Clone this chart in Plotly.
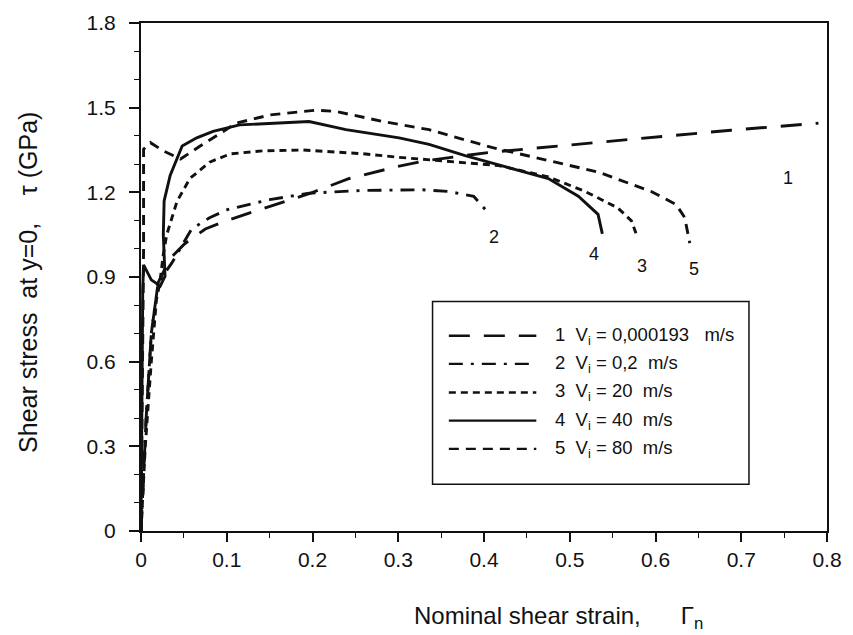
import plotly.graph_objects as go

# ---------------- data ----------------
x1 = [0, 0.006, 0.012, 0.02, 0.034, 0.051, 0.075, 0.1, 0.14, 0.196, 0.243, 0.297, 0.332, 0.405, 0.572, 0.688, 0.79]
y1 = [0, 0.4, 0.7, 0.88, 0.966, 1.018, 1.07, 1.10, 1.14, 1.195, 1.249, 1.29, 1.312, 1.341, 1.388, 1.42, 1.445]

x2 = [0, 0.006, 0.012, 0.02, 0.036, 0.059, 0.08, 0.101, 0.13, 0.15, 0.196, 0.26, 0.328, 0.359, 0.388, 0.4016]
y2 = [0, 0.4, 0.7, 0.88, 0.95, 1.07, 1.11, 1.139, 1.16, 1.174, 1.197, 1.207, 1.209, 1.203, 1.186, 1.139]

x3 = [0, 0.005, 0.012, 0.018, 0.022, 0.026, 0.03, 0.042, 0.057, 0.08, 0.104, 0.142, 0.189, 0.258, 0.301, 0.417, 0.475, 0.518, 0.556, 0.572, 0.579]
y3 = [0, 0.3, 0.6, 0.82, 0.88, 0.98, 1.05, 1.168, 1.249, 1.307, 1.336, 1.347, 1.35, 1.337, 1.324, 1.295, 1.255, 1.203, 1.145, 1.099, 1.04]

x4 = [0, 0.001, 0.002, 0.003, 0.012, 0.0224, 0.028, 0.026, 0.027, 0.034, 0.048, 0.065, 0.084, 0.115, 0.196, 0.239, 0.301, 0.336, 0.378, 0.475, 0.51, 0.533, 0.538]
y4 = [0, 0.5, 0.85, 0.943, 0.89, 0.868, 0.903, 1.05, 1.17, 1.26, 1.364, 1.393, 1.416, 1.439, 1.451, 1.422, 1.393, 1.37, 1.33, 1.249, 1.186, 1.122, 1.053]

x5 = [0, 0.002, 0.003, 0.003, 0.011, 0.026, 0.046, 0.069, 0.111, 0.15, 0.204, 0.227, 0.282, 0.336, 0.409, 0.533, 0.595, 0.624, 0.634, 0.64]
y5 = [0, 0.6, 1.0, 1.353, 1.376, 1.347, 1.318, 1.364, 1.445, 1.474, 1.491, 1.487, 1.451, 1.422, 1.359, 1.272, 1.203, 1.157, 1.111, 1.02]

series_x = [x1, x2, x3, x4, x5]
series_y = [y1, y2, y3, y4, y5]
series_ids = ["1", "2", "3", "4", "5"]
legend_texts = ["1  V<sub>i</sub> = 0,000193   m/s", "2  V<sub>i</sub> = 0,2  m/s",
                "3  V<sub>i</sub> = 20  m/s", "4  V<sub>i</sub> = 40  m/s",
                "5  V<sub>i</sub> = 80  m/s"]
label_x = [0.755, 0.4115, 0.5845, 0.5285, 0.6445]
label_y = [1.25, 1.04, 0.94, 0.98, 0.93]

x_ticks = [0, 0.1, 0.2, 0.3, 0.4, 0.5, 0.6, 0.7, 0.8]
x_tick_text = ["0", "0.1", "0.2", "0.3", "0.4", "0.5", "0.6", "0.7", "0.8"]
y_ticks = [0, 0.3, 0.6, 0.9, 1.2, 1.5, 1.8]
y_tick_text = ["0", "0.3", "0.6", "0.9", "1.2", "1.5", "1.8"]

# ---------------- styles ----------------
dashes = ["21px,14px", "14px,8px,3px,8px", "7px,5px", "solid", "10px,7px"]
FONT = "Liberation Sans, Arial, Helvetica, sans-serif"
INK = "#111111"

fig = go.Figure()
for sx, sy, d, sid in zip(series_x, series_y, dashes, series_ids):
    fig.add_trace(go.Scatter(x=sx, y=sy, mode="lines", name=sid, showlegend=False,
                             line=dict(color=INK, width=2.9, dash=d)))

# curve number labels
for lx, ly, sid in zip(label_x, label_y, series_ids):
    fig.add_annotation(x=lx, y=ly, text=sid, showarrow=False,
                       font=dict(family=FONT, size=18, color=INK))

# hand-drawn legend box (as in the reference)
leg_x0, leg_x1, leg_y0, leg_y1 = 0.340, 0.709, 0.166, 0.813
fig.add_shape(type="rect", x0=leg_x0, x1=leg_x1, y0=leg_y0, y1=leg_y1,
              line=dict(color=INK, width=1.5), fillcolor="white", layer="above")
row_y = [0.692, 0.592, 0.491, 0.391, 0.291]
for ry, d, t in zip(row_y, dashes, legend_texts):
    fig.add_shape(type="line", x0=0.359, x1=0.461, y0=ry, y1=ry,
                  line=dict(color=INK, width=2.4, dash=d), layer="above")
    fig.add_annotation(x=0.481, y=ry, text=t, showarrow=False, xanchor="left",
                       yanchor="middle", font=dict(family=FONT, size=18.5, color=INK))

# axis titles
fig.add_annotation(xref="paper", yref="paper", x=0.395, y=-0.17, xanchor="left", yanchor="middle",
                   text="Nominal shear strain,      \u0393<sub>n</sub>", showarrow=False,
                   font=dict(family=FONT, size=24, color=INK))
fig.add_annotation(xref="paper", yref="paper", x=-0.165, y=0.49, xanchor="center", yanchor="middle",
                   text="Shear stress  at y=0,    \u03c4 (GPa)", showarrow=False, textangle=-90,
                   font=dict(family=FONT, size=25, color=INK))

fig.update_xaxes(range=[0, 0.8], tickvals=x_ticks, ticktext=x_tick_text,
                 showgrid=False, zeroline=False, showline=True, linecolor=INK, linewidth=2,
                 mirror=True, ticks="outside", ticklen=9, tickwidth=1.5, tickcolor=INK,
                 minor=dict(dtick=0.05, ticks="outside", ticklen=5, tickwidth=1, tickcolor=INK),
                 tickfont=dict(family=FONT, size=21, color=INK))
fig.update_yaxes(range=[0, 1.8], tickvals=y_ticks, ticktext=y_tick_text,
                 showgrid=False, zeroline=False, showline=True, linecolor=INK, linewidth=2,
                 mirror=True, ticks="outside", ticklen=10, tickwidth=1.5, tickcolor=INK,
                 minor=dict(dtick=0.1, ticks="outside", ticklen=5, tickwidth=1, tickcolor=INK),
                 ticklabelstandoff=9,
                 tickfont=dict(family=FONT, size=21, color=INK))

fig.update_layout(width=853, height=635, plot_bgcolor="white", paper_bgcolor="white",
                  margin=dict(l=141, r=23, t=11, b=104), showlegend=False)

fig.write_html("out.html")
